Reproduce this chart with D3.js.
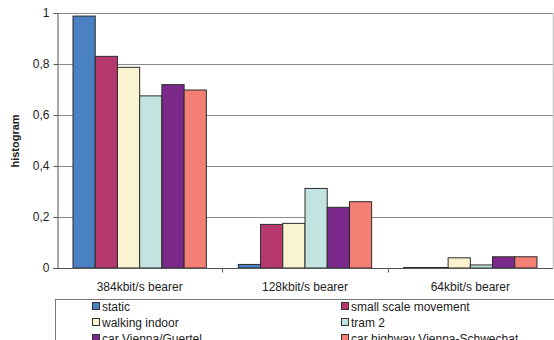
<!DOCTYPE html>
<html>
<head>
<meta charset="utf-8">
<script src="https://cdn.jsdelivr.net/npm/d3@7/dist/d3.min.js"></script>
<style>
  html, body { margin: 0; padding: 0; background: #fff; }
  svg { display: block; font-family: "Liberation Sans", Arial, sans-serif; }
</style>
</head>
<body>
<svg id="chart" width="554" height="340"></svg>
<script>
// Bearer categories and movement scenarios
const categories = ["384kbit/s bearer", "128kbit/s bearer", "64kbit/s bearer"];
const seriesNames = [
  "static",
  "small scale movement",
  "walking indoor",
  "tram 2",
  "car Vienna/Guertel",
  "car highway Vienna-Schwechat"
];
// Histogram share per scenario, one value per bearer
const staticVals    = [0.988, 0.014, 0.002];
const smallScale    = [0.830, 0.171, 0.002];
const walkingIndoor = [0.787, 0.175, 0.040];
const tram2         = [0.675, 0.312, 0.012];
const carGuertel    = [0.719, 0.238, 0.044];
const carHighway    = [0.698, 0.260, 0.044];
const yTicks = [0, 0.2, 0.4, 0.6, 0.8, 1];
const colors = ["#4a81c2", "#b7386f", "#f9f4cf", "#c3e3e0", "#7b2a8b", "#f47f75"];

const seriesValues = [staticVals, smallScale, walkingIndoor, tram2, carGuertel, carHighway];

const svg = d3.select("#chart");
const plotLeft = 57, plotRight = 553, plotTop = 13, plotBottom = 268;

const x = d3.scaleBand().domain(categories).range([plotLeft, plotRight]).padding(0);
const xInner = d3.scaleBand().domain(seriesNames)
  .range([16, x.bandwidth() - 16]).padding(0);
const y = d3.scaleLinear().domain([0, 1]).range([plotBottom, plotTop]);

const fmt = d => d === 0 ? "0" : d === 1 ? "1" : d3.format(".1f")(d).replace(".", ",");

// Horizontal gridlines
svg.append("g").selectAll("line").data(yTicks.filter(d => d > 0)).join("line")
  .attr("x1", plotLeft).attr("x2", plotRight)
  .attr("y1", d => Math.round(y(d)) + 0.5).attr("y2", d => Math.round(y(d)) + 0.5)
  .attr("stroke", "#8a8a8a").attr("stroke-width", 1);

// Right border of the plot area
svg.append("line")
  .attr("x1", plotRight + 0.5).attr("x2", plotRight + 0.5)
  .attr("y1", plotTop).attr("y2", plotBottom)
  .attr("stroke", "#c8c8c8").attr("stroke-width", 1.5);

// Bars
const barData = [];
seriesNames.forEach((s, si) => {
  categories.forEach((c, ci) => {
    barData.push({ s, c, v: seriesValues[si][ci], color: colors[si] });
  });
});
svg.append("g").selectAll("rect").data(barData).join("rect")
  .attr("x", d => x(d.c) + xInner(d.s))
  .attr("y", d => y(d.v))
  .attr("width", xInner.bandwidth())
  .attr("height", d => plotBottom - y(d.v))
  .attr("fill", d => d.color)
  .attr("stroke", "#2b2b2b").attr("stroke-width", 1);

// Y axis
const yAxis = svg.append("g").attr("transform", `translate(${plotLeft + 0.5},0)`)
  .call(d3.axisLeft(y).tickValues(yTicks).tickFormat(fmt).tickSizeOuter(0).tickSize(4).tickPadding(4));
yAxis.select(".domain").attr("stroke", "#555");
yAxis.selectAll(".tick line").attr("stroke", "#555");
yAxis.selectAll("text").attr("font-size", 12).attr("fill", "#222")
  .attr("font-family", "'Liberation Sans', Arial, sans-serif");

// X axis with ticks between categories
const xAxisG = svg.append("g").attr("transform", `translate(0,${plotBottom + 0.5})`);
xAxisG.append("line").attr("x1", plotLeft).attr("x2", plotRight)
  .attr("stroke", "#555").attr("stroke-width", 1);
xAxisG.selectAll("line.sep").data(categories.slice(1)).join("line")
  .attr("class", "sep")
  .attr("x1", d => Math.round(x(d)) + 0.5).attr("x2", d => Math.round(x(d)) + 0.5)
  .attr("y1", 0).attr("y2", 4).attr("stroke", "#555");
xAxisG.selectAll("text").data(categories).join("text")
  .attr("x", d => x(d) + x.bandwidth() / 2)
  .attr("y", 22)
  .attr("text-anchor", "middle")
  .attr("font-size", 12).attr("fill", "#222")
  .text(d => d);

// Y axis title
svg.append("text")
  .attr("transform", "translate(19,141) rotate(-90)")
  .attr("text-anchor", "middle")
  .attr("font-size", 11).attr("font-weight", "bold").attr("fill", "#222")
  .text("histogram");

// Legend
svg.append("rect")
  .attr("x", 55.5).attr("y", 299.5).attr("width", 520).attr("height", 60)
  .attr("fill", "#fff").attr("stroke", "#777").attr("stroke-width", 1);
const legendCols = [92, 341];
const legend = svg.append("g").selectAll("g").data(seriesNames).join("g")
  .attr("transform", (d, i) => `translate(${legendCols[i % 2]},${306 + Math.floor(i / 2) * 16})`);
legend.append("rect")
  .attr("x", 0.5).attr("y", -3.5).attr("width", 7).attr("height", 7)
  .attr("fill", (d, i) => colors[i]).attr("stroke", "#333").attr("stroke-width", 1);
legend.append("text")
  .attr("x", 10).attr("y", 4.5)
  .attr("font-size", 12).attr("fill", "#222")
  .text(d => d);
</script>
</body>
</html>
